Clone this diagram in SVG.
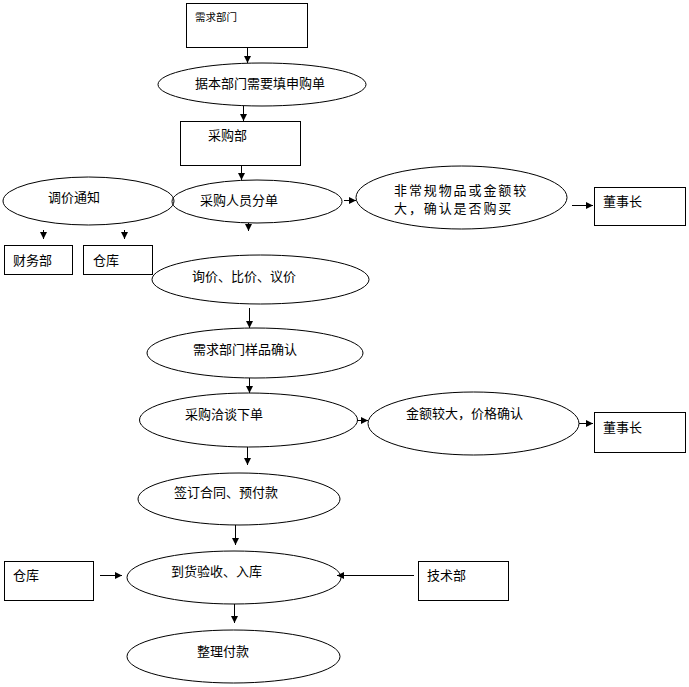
<svg xmlns="http://www.w3.org/2000/svg" width="689" height="687" viewBox="0 0 689 687">
<style>
.bg{fill:#ffffff}
.box{fill:none;stroke:#000;stroke-width:1}
.ell{fill:none;stroke:#000;stroke-width:1}
.t{font-family:"Noto Sans CJK SC","Liberation Sans",sans-serif;font-size:13px;fill:#000}
.s{font-size:10.5px}
.ls{letter-spacing:1.9px}
.c{fill:none;stroke:#000;stroke-width:1}
</style>
<defs>
<marker id="ah" markerUnits="userSpaceOnUse" markerWidth="8" markerHeight="8" refX="7" refY="3.5" orient="auto">
<path d="M0,0 L7,3.5 L0,7 Z" fill="#000"/>
</marker>
</defs>
<rect class="bg" x="0" y="0" width="689" height="687"/>

<g id="n-xuqiu"><rect class="box" x="186.5" y="3.5" width="121" height="44"/><text class="t s" x="195" y="21">需求部门</text></g>
<g id="n-juben"><ellipse class="ell" cx="262" cy="84.5" rx="104" ry="21.5"/><text class="t" x="195" y="88">据本部门需要填申购单</text></g>
<g id="n-caigoubu"><rect class="box" x="180.5" y="121.5" width="120" height="44"/><text class="t" x="208" y="140">采购部</text></g>
<g id="n-tiaojia"><ellipse class="ell" cx="88.5" cy="201" rx="85.5" ry="24"/><text class="t" x="48" y="202">调价通知</text></g>
<g id="n-fendan"><ellipse class="ell" cx="257" cy="201.5" rx="85" ry="21.5"/><text class="t" x="200" y="205">采购人员分单</text></g>
<g id="n-feichang"><ellipse class="ell" cx="461.5" cy="197.5" rx="105.5" ry="31.5"/><text class="t ls" x="394" y="195">非常规物品或金额较</text><text class="t ls" x="394" y="213">大，确认是否购买</text></g>
<g id="n-dongshi1"><rect class="box" x="594.5" y="187.5" width="91" height="38"/><text class="t" x="603" y="206">董事长</text></g>
<g id="n-caiwu"><rect class="box" x="4.5" y="245.5" width="68" height="29"/><text class="t" x="13" y="265">财务部</text></g>
<g id="n-cangku1"><rect class="box" x="83.5" y="245.5" width="69" height="29"/><text class="t" x="93" y="265">仓库</text></g>
<g id="n-xunjia"><ellipse class="ell" cx="260.5" cy="279.5" rx="108.5" ry="24.5"/><text class="t" x="192" y="281">询价、比价、议价</text></g>
<g id="n-yangpin"><ellipse class="ell" cx="255" cy="353" rx="108" ry="25"/><text class="t" x="193" y="354">需求部门样品确认</text></g>
<g id="n-qiatan"><ellipse class="ell" cx="248.5" cy="420" rx="109" ry="27"/><text class="t" x="185" y="419">采购洽谈下单</text></g>
<g id="n-jine"><ellipse class="ell" cx="473.5" cy="423.5" rx="105.5" ry="31.5"/><text class="t" x="406" y="418">金额较大，价格确认</text></g>
<g id="n-dongshi2"><rect class="box" x="594.5" y="412.5" width="91" height="40"/><text class="t" x="603" y="432">董事长</text></g>
<g id="n-qianding"><ellipse class="ell" cx="239" cy="499" rx="101" ry="26"/><text class="t" x="174" y="497">签订合同、预付款</text></g>
<g id="n-daohuo"><ellipse class="ell" cx="234" cy="577.5" rx="107" ry="26.5"/><text class="t" x="171" y="576">到货验收、入库</text></g>
<g id="n-cangku2"><rect class="box" x="4.5" y="561.5" width="89" height="39"/><text class="t" x="13" y="580">仓库</text></g>
<g id="n-jishu"><rect class="box" x="418.5" y="561.5" width="90" height="39"/><text class="t" x="427" y="580">技术部</text></g>
<g id="n-zhengli"><ellipse class="ell" cx="233.5" cy="656.5" rx="106.5" ry="26.5"/><text class="t" x="197" y="656">整理付款</text></g>

<g id="connectors">
<line class="c" x1="247.5" y1="47" x2="247.5" y2="63" marker-end="url(#ah)"/>
<line class="c" x1="243.5" y1="106" x2="243.5" y2="121" marker-end="url(#ah)"/>
<line class="c" x1="241.5" y1="165" x2="241.5" y2="180" marker-end="url(#ah)"/>
<line class="c" x1="248.5" y1="223" x2="248.5" y2="231" marker-end="url(#ah)"/>
<line class="c" x1="43.5" y1="230" x2="43.5" y2="239" marker-end="url(#ah)"/>
<line class="c" x1="124.5" y1="230" x2="124.5" y2="239" marker-end="url(#ah)"/>
<line class="c" x1="344" y1="200.5" x2="356" y2="200.5" marker-end="url(#ah)"/>
<line class="c" x1="572" y1="205.5" x2="593" y2="205.5" marker-end="url(#ah)"/>
<line class="c" x1="249.5" y1="308" x2="249.5" y2="328" marker-end="url(#ah)"/>
<line class="c" x1="249.5" y1="378" x2="249.5" y2="393" marker-end="url(#ah)"/>
<line class="c" x1="357" y1="420.5" x2="368" y2="420.5" marker-end="url(#ah)"/>
<line class="c" x1="579" y1="423.5" x2="593" y2="423.5" marker-end="url(#ah)"/>
<line class="c" x1="247.5" y1="447" x2="247.5" y2="465" marker-end="url(#ah)"/>
<line class="c" x1="235.5" y1="525" x2="235.5" y2="545" marker-end="url(#ah)"/>
<line class="c" x1="100" y1="575.5" x2="122" y2="575.5" marker-end="url(#ah)"/>
<line class="c" x1="414" y1="575.5" x2="337" y2="575.5" marker-end="url(#ah)"/>
<line class="c" x1="234.5" y1="604" x2="234.5" y2="623" marker-end="url(#ah)"/>
</g>
</svg>
